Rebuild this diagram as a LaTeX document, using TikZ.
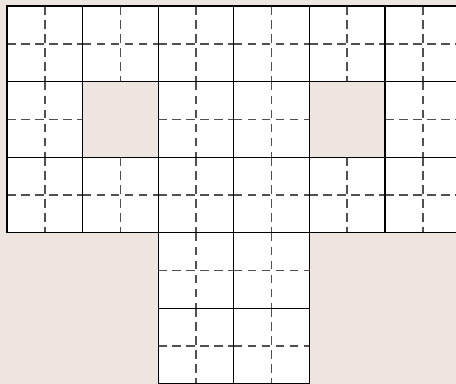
\documentclass[tikz,border=0pt]{standalone}
\definecolor{bgc}{HTML}{EEE5E0}
\definecolor{dashc}{HTML}{505050}
\tikzset{
  solidline/.style={draw=black,line width=0.95pt},
  dashline/.style={draw=dashc,line width=1.1pt,dash pattern=on 6.5pt off 4pt},
}
\begin{document}
\begin{tikzpicture}[x=0.75pt,y=-0.75pt]
\useasboundingbox (0,0) rectangle (456,384);
\fill[bgc] (0,0) rectangle (456,384);
\begin{scope}
\clip (0,0) rectangle (456,384);
\def\cs{75.6}
% list of cells col/row
\def\cells{0/0,1/0,2/0,3/0,4/0,5/0,0/1,2/1,3/1,5/1,0/2,1/2,2/2,3/2,4/2,5/2,2/3,3/3,2/4,3/4}
\foreach \c/\r in \cells {
  \fill[white] ({7+\c*\cs},{6+\r*\cs}) rectangle ++(\cs,\cs);
}
\foreach \c/\r in \cells {
  \draw[dashline] ({7+(\c+0.5)*\cs},{6+\r*\cs}) -- ++(0,\cs);
  \draw[dashline] ({7+\c*\cs},{6+(\r+0.5)*\cs}) -- ++(\cs,0);
}
\foreach \c/\r in \cells {
  \draw[solidline] ({7+\c*\cs},{6+\r*\cs}) rectangle ++(\cs,\cs);
}
\end{scope}
\end{tikzpicture}
\end{document}
